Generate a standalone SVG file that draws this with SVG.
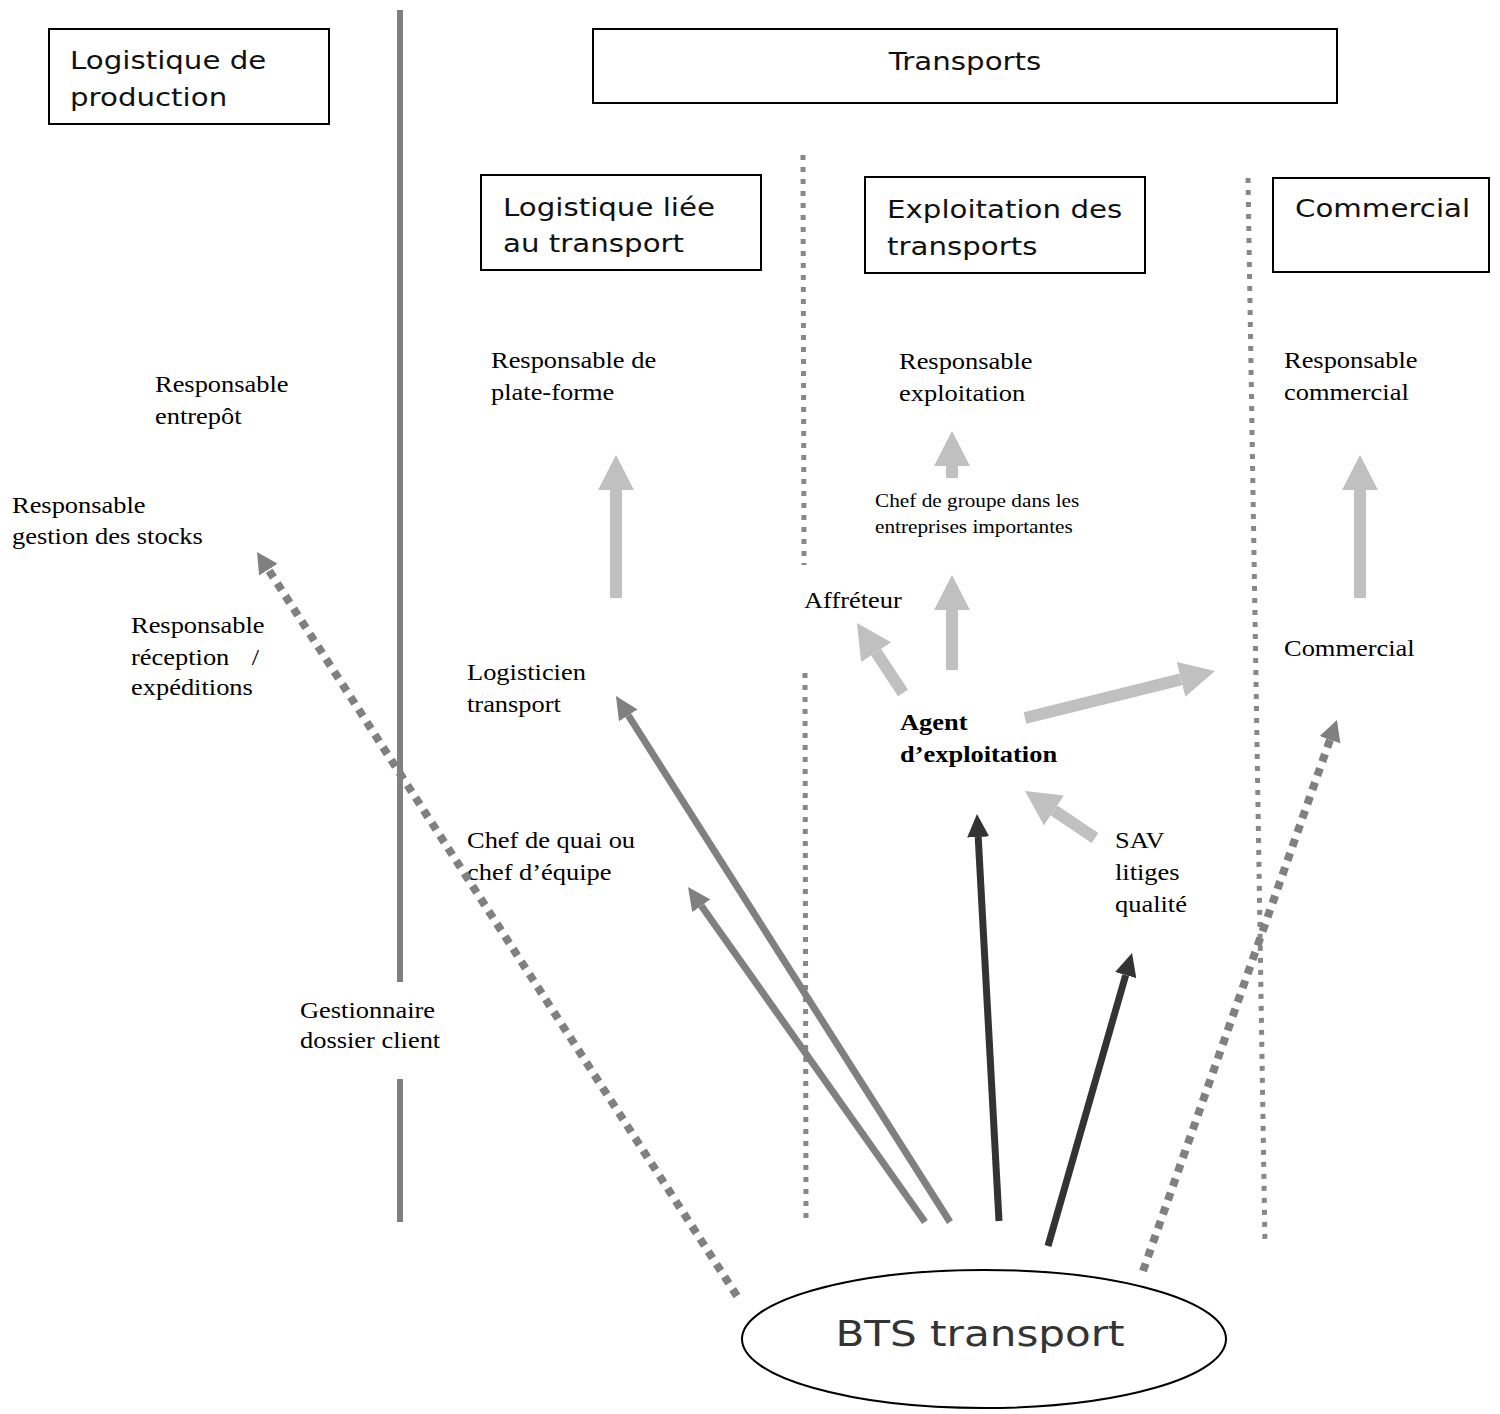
<svg xmlns="http://www.w3.org/2000/svg" width="1500" height="1414" viewBox="0 0 1500 1414">
<style>
.box{fill:#fff;stroke:#000;stroke-width:2}
.sans{font-family:"DejaVu Sans","Liberation Sans",sans-serif;font-size:24px;fill:#111}
.serif{font-family:"Liberation Serif","Times New Roman",serif;font-size:23px;fill:#000}
.small{font-size:18.5px}
.bold{font-weight:bold}
.sep{stroke:#808080;stroke-width:6;fill:none}
.vdot{stroke:#888;stroke-width:5;stroke-dasharray:5 7;fill:none}
.ddot{stroke:#808080;stroke-width:8;stroke-dasharray:8 7;fill:none}
.light{stroke:#c0c0c0;stroke-width:12;fill:none;marker-end:url(#mkLight)}
.mid{stroke:#808080;stroke-width:7;fill:none;marker-end:url(#mkMid)}
.dark{stroke:#333;stroke-width:7;fill:none;marker-end:url(#mkDark)}
.dotarr{marker-end:url(#mkDot)}
</style>
<defs>
<marker id="mkLight" markerUnits="userSpaceOnUse" markerWidth="35" markerHeight="36" viewBox="0 0 35 36" refX="0" refY="18" orient="auto"><path d="M0,0 L35,18 L0,36 z" fill="#c0c0c0"/></marker>
<marker id="mkMid" markerUnits="userSpaceOnUse" markerWidth="23" markerHeight="22" viewBox="0 0 23 22" refX="0" refY="11" orient="auto"><path d="M0,0 L23,11 L0,22 z" fill="#808080"/></marker>
<marker id="mkDark" markerUnits="userSpaceOnUse" markerWidth="23" markerHeight="22" viewBox="0 0 23 22" refX="0" refY="11" orient="auto"><path d="M0,0 L23,11 L0,22 z" fill="#333"/></marker>
<marker id="mkDot" markerUnits="userSpaceOnUse" markerWidth="21" markerHeight="22" viewBox="0 0 21 22" refX="0" refY="11" orient="auto"><path d="M0,0 L21,11 L0,22 z" fill="#808080"/></marker>
</defs>
<rect width="1500" height="1414" fill="#fff"/>

<g id="separators">
<line class="sep" x1="400" y1="10" x2="400" y2="982"/>
<line class="sep" x1="400" y1="1079" x2="400" y2="1222"/>
<line class="vdot" x1="803" y1="155" x2="804" y2="565"/>
<line class="vdot" x1="805" y1="673" x2="806" y2="1222"/>
<line class="vdot" x1="1248" y1="178" x2="1265" y2="1245"/>
</g>

<g id="box-logistique-production">
<rect class="box" x="49" y="29" width="280" height="95"/>
<text class="sans" transform="translate(70,69) scale(1.22 1)"><tspan x="0" y="0">Logistique de</tspan><tspan x="0" y="37">production</tspan></text>
</g>
<g id="box-transports">
<rect class="box" x="593" y="29" width="744" height="74"/>
<text class="sans" text-anchor="middle" transform="translate(965,70) scale(1.22 1)">Transports</text>
</g>
<g id="box-logistique-transport">
<rect class="box" x="481" y="175" width="280" height="95"/>
<text class="sans" transform="translate(503,216) scale(1.22 1)"><tspan x="0" y="0">Logistique liée</tspan><tspan x="0" y="36">au transport</tspan></text>
</g>
<g id="box-exploitation">
<rect class="box" x="865" y="177" width="280" height="96"/>
<text class="sans" transform="translate(887,218) scale(1.22 1)"><tspan x="0" y="0">Exploitation des</tspan><tspan x="0" y="37">transports</tspan></text>
</g>
<g id="box-commercial">
<rect class="box" x="1273" y="178" width="216" height="94"/>
<text class="sans" transform="translate(1295,217) scale(1.22 1)">Commercial</text>
</g>

<g id="n-resp-entrepot"><text class="serif" transform="translate(155,392) scale(1.15 1)"><tspan x="0" y="0">Responsable</tspan><tspan x="0" y="32">entrepôt</tspan></text></g>
<g id="n-resp-stocks"><text class="serif" transform="translate(12,513) scale(1.15 1)"><tspan x="0" y="0">Responsable</tspan><tspan x="0" y="31">gestion des stocks</tspan></text></g>
<g id="n-resp-reception"><text class="serif" transform="translate(131,633) scale(1.15 1)"><tspan x="0" y="0">Responsable</tspan><tspan x="0" y="32">réception</tspan><tspan x="105" y="32">/</tspan><tspan x="0" y="62">expéditions</tspan></text></g>
<g id="n-gestionnaire"><text class="serif" transform="translate(300,1018) scale(1.15 1)"><tspan x="0" y="0">Gestionnaire</tspan><tspan x="0" y="30">dossier client</tspan></text></g>
<g id="n-resp-plateforme"><text class="serif" transform="translate(491,368) scale(1.15 1)"><tspan x="0" y="0">Responsable de</tspan><tspan x="0" y="32">plate-forme</tspan></text></g>
<g id="n-logisticien"><text class="serif" transform="translate(467,680) scale(1.15 1)"><tspan x="0" y="0">Logisticien</tspan><tspan x="0" y="32">transport</tspan></text></g>
<g id="n-chef-quai"><text class="serif" transform="translate(467,848) scale(1.15 1)"><tspan x="0" y="0">Chef de quai ou</tspan><tspan x="0" y="32">chef d’équipe</tspan></text></g>
<g id="n-resp-exploitation"><text class="serif" transform="translate(899,369) scale(1.15 1)"><tspan x="0" y="0">Responsable</tspan><tspan x="0" y="32">exploitation</tspan></text></g>
<g id="n-chef-groupe"><text class="serif small" transform="translate(875,507) scale(1.15 1)"><tspan x="0" y="0">Chef de groupe dans les</tspan><tspan x="0" y="26">entreprises importantes</tspan></text></g>
<g id="n-affreteur"><text class="serif" transform="translate(804,608) scale(1.15 1)">Affréteur</text></g>
<g id="n-agent"><text class="serif bold" transform="translate(900,730) scale(1.15 1)"><tspan x="0" y="0">Agent</tspan><tspan x="0" y="32">d’exploitation</tspan></text></g>
<g id="n-sav"><text class="serif" transform="translate(1115,848) scale(1.15 1)"><tspan x="0" y="0">SAV</tspan><tspan x="0" y="32">litiges</tspan><tspan x="0" y="64">qualité</tspan></text></g>
<g id="n-resp-commercial"><text class="serif" transform="translate(1284,368) scale(1.15 1)"><tspan x="0" y="0">Responsable</tspan><tspan x="0" y="32">commercial</tspan></text></g>
<g id="n-commercial"><text class="serif" transform="translate(1284,656) scale(1.15 1)">Commercial</text></g>

<g id="n-bts">
<ellipse cx="984" cy="1339" rx="242" ry="69" fill="#fff" stroke="#000" stroke-width="2"/>
<text class="sans" style="font-size:36px;fill:#333" text-anchor="middle" transform="translate(980,1346) scale(1.17 1)">BTS transport</text>
</g>

<g id="connectors">
<line class="light" x1="616" y1="598" x2="616" y2="490"/>
<line class="light" x1="1360" y1="598" x2="1360" y2="490"/>
<line class="light" x1="952" y1="670" x2="952" y2="610"/>
<line class="light" x1="952" y1="478" x2="952" y2="466"/>
<line class="light" x1="903" y1="693" x2="876.2" y2="652.2"/>
<line class="light" x1="1025" y1="718" x2="1181" y2="679.4"/>
<line class="light" x1="1095" y1="838" x2="1054" y2="810.5"/>
<line class="mid" x1="950" y1="1222" x2="628.3" y2="715.4"/>
<line class="mid" x1="925" y1="1222" x2="701.3" y2="905.8"/>
<line class="dark" x1="999" y1="1221" x2="978.2" y2="837"/>
<line class="dark" x1="1048" y1="1246" x2="1125.7" y2="975.1"/>
<line class="ddot dotarr" x1="737" y1="1296" x2="268.4" y2="569.6"/>
<line class="ddot dotarr" x1="1143" y1="1271" x2="1330" y2="739.8"/>
</g>
</svg>
